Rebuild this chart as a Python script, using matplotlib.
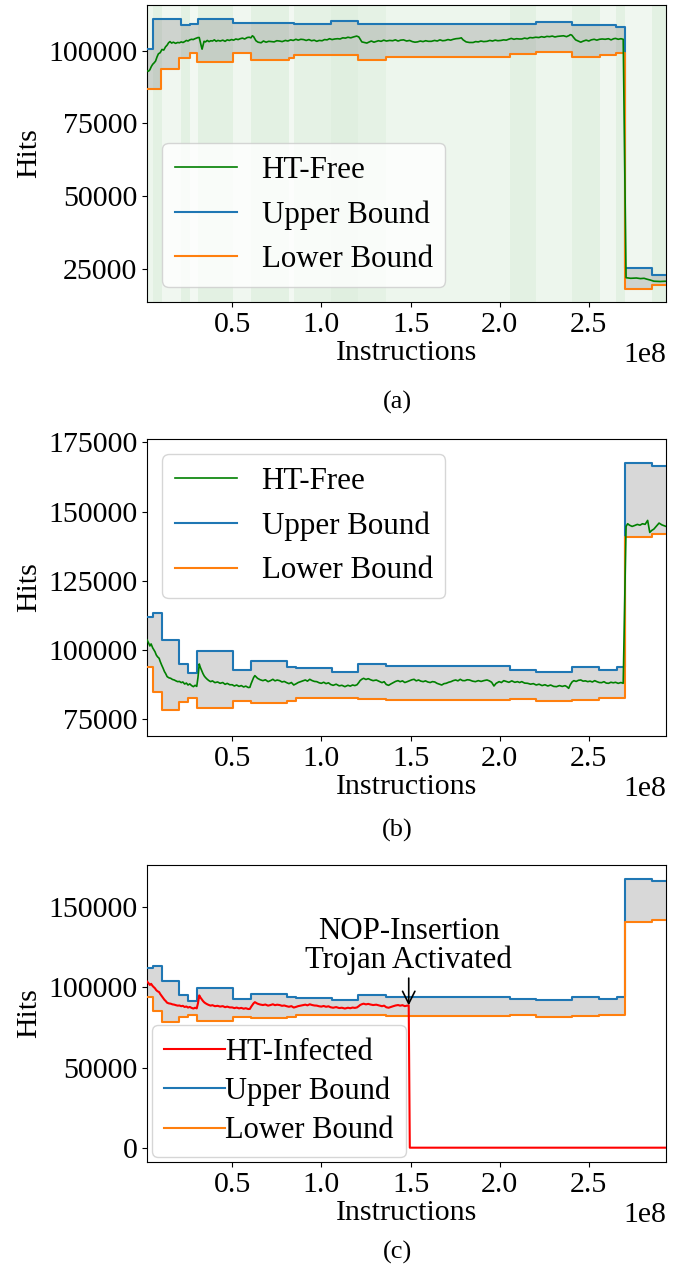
import numpy as np
import matplotlib
matplotlib.use('Agg')
import matplotlib.pyplot as plt

plt.rcParams['font.family'] = ['Liberation Serif', 'DejaVu Serif']
plt.rcParams['font.size'] = 21.5

E8 = 1e8

# ---------------- panel (a): HT-free run with window shading ----------------
a_up_x = [0.022, 0.054, 0.210, 0.262, 0.307, 0.502, 0.847, 1.052, 1.208, 2.202, 2.407, 2.650, 2.705, 2.855, 2.933]
a_up_y = [100690, 110890, 108830, 109170, 110890, 109410, 109000, 110100, 109170, 109960, 108930, 108250, 25230, 22930, 22930]

a_lo_x = [0.022, 0.100, 0.200, 0.262, 0.305, 0.502, 0.603, 0.818, 0.847, 1.208, 1.364, 2.056, 2.202, 2.407,
          2.562, 2.650, 2.705, 2.855, 2.933]
a_lo_y = [86940, 93710, 97390, 99210, 96010, 99100, 96700, 97390, 98520, 96700, 97730, 98870, 99660, 97730,
          98630, 99310, 18010, 19250, 19250]

# (x in 1e8 instructions, hits)
a_free = [(0.022, 93100), (0.030, 92900), (0.038, 93400), (0.046, 94500), (0.054, 95300), (0.062, 95800),
          (0.070, 96400), (0.078, 97800), (0.086, 98900), (0.096, 99300), (0.106, 100400), (0.116, 100200),
          (0.126, 101300), (0.135, 101900), (0.143, 102700), (0.151, 103100), (0.160, 102600), (0.170, 102900),
          (0.182, 102500), (0.194, 102800), (0.204, 102700), (0.214, 103000), (0.224, 102800), (0.233, 103100),
          (0.243, 103500), (0.252, 103300), (0.262, 103700), (0.272, 103900), (0.281, 103800), (0.291, 104100),
          (0.300, 104300), (0.308, 104500), (0.315, 104500), (0.322, 102600), (0.327, 101400), (0.331, 100500),
          (0.336, 101800), (0.342, 103200), (0.350, 103000), (0.360, 103500), (0.370, 103100), (0.380, 103400),
          (0.389, 103300), (0.400, 103700), (0.410, 103200), (0.420, 103500), (0.433, 103300), (0.447, 103600),
          (0.460, 103200), (0.472, 103700), (0.484, 103500), (0.496, 103800), (0.508, 103600), (0.520, 104000),
          (0.533, 103800), (0.545, 104100), (0.557, 104300), (0.570, 104000), (0.584, 104500), (0.595, 104600),
          (0.605, 104400), (0.613, 105100), (0.620, 104800), (0.633, 103400), (0.645, 102900), (0.662, 102700),
          (0.675, 103300), (0.690, 102900), (0.705, 103200), (0.720, 103100), (0.735, 103000), (0.750, 103400),
          (0.765, 103300), (0.780, 103100), (0.798, 103500), (0.812, 103300), (0.828, 103700), (0.842, 103500),
          (0.857, 103900), (0.870, 103600), (0.885, 103900), (0.900, 103800), (0.915, 103500), (0.930, 103800),
          (0.945, 103400), (0.960, 103600), (0.974, 103200), (0.988, 103500), (1.004, 103400), (1.018, 103800),
          (1.032, 103700), (1.046, 104100), (1.060, 103800), (1.075, 104000), (1.091, 104100), (1.105, 104000),
          (1.120, 104400), (1.135, 104300), (1.149, 104600), (1.165, 104400), (1.180, 104700), (1.198, 105000),
          (1.210, 104700), (1.218, 103900), (1.227, 103000), (1.240, 102800), (1.255, 102600), (1.266, 102900),
          (1.280, 103300), (1.295, 102900), (1.305, 103100), (1.320, 103400), (1.335, 103200), (1.350, 103600),
          (1.365, 103300), (1.383, 103500), (1.400, 103400), (1.415, 103700), (1.430, 103300), (1.445, 103600),
          (1.461, 103700), (1.478, 103300), (1.495, 103500), (1.510, 103100), (1.525, 102900), (1.539, 103000),
          (1.555, 103300), (1.570, 103100), (1.585, 103400), (1.600, 103200), (1.617, 103200), (1.635, 103500),
          (1.650, 103300), (1.665, 103700), (1.680, 103400), (1.695, 103500), (1.710, 103800), (1.725, 103600),
          (1.740, 103900), (1.755, 104100), (1.773, 104200), (1.785, 104400), (1.795, 103700), (1.812, 103000),
          (1.830, 102800), (1.851, 102800), (1.865, 103100), (1.880, 103000), (1.895, 103300), (1.910, 103100),
          (1.929, 103200), (1.945, 103500), (1.960, 103300), (1.975, 103600), (1.990, 103400), (2.007, 103500),
          (2.022, 103700), (2.037, 103600), (2.050, 103900), (2.065, 104200), (2.080, 103900), (2.095, 104100),
          (2.110, 104000), (2.124, 104000), (2.140, 104300), (2.155, 104100), (2.170, 104500), (2.185, 104400),
          (2.202, 104600), (2.220, 104500), (2.235, 104800), (2.250, 104600), (2.265, 104900), (2.280, 104800),
          (2.295, 105000), (2.310, 104700), (2.325, 104900), (2.340, 105000), (2.358, 105100), (2.375, 104800),
          (2.390, 105200), (2.397, 105500), (2.405, 105300), (2.415, 104500), (2.426, 103700), (2.440, 103300),
          (2.455, 102900), (2.470, 103300), (2.485, 103600), (2.500, 103300), (2.514, 103700), (2.530, 103900),
          (2.545, 103600), (2.560, 103900), (2.575, 104000), (2.592, 103900), (2.610, 104100), (2.625, 103700),
          (2.640, 104100), (2.650, 104200), (2.665, 103900), (2.680, 104100), (2.693, 103900), (2.709, 21900),
          (2.735, 21700), (2.767, 21800), (2.790, 21600), (2.810, 21700), (2.826, 21400), (2.845, 21100),
          (2.865, 20700), (2.900, 20600), (2.933, 20700)]

# profiling windows shaded in (a): edges and shade strength
win_edges = [0.022, 0.054, 0.106, 0.210, 0.262, 0.307, 0.502, 0.607, 0.818, 0.847, 1.052, 1.208, 1.364,
             2.056, 2.202, 2.407, 2.562, 2.650, 2.705, 2.855, 2.933]
win_alpha = [0.07, 0.11, 0.06, 0.11, 0.05, 0.11, 0.06, 0.11, 0.05, 0.10, 0.12, 0.10, 0.07,
             0.11, 0.07, 0.11, 0.06, 0.11, 0.06, 0.11]

# ---------------- panels (b) and (c): bounds for the infected comparison ----------------
b_x = [0.022, 0.054, 0.106, 0.200, 0.252, 0.305, 0.502, 0.603, 0.808, 0.857, 1.058, 1.208, 1.360,
       2.056, 2.202, 2.406, 2.556, 2.660, 2.705, 2.855, 2.933]
b_up = [112110, 113320, 103680, 95000, 91630, 99700, 92950, 95970, 94040, 93440, 92110, 95120, 94160,
        92950, 92110, 93920, 92710, 93800, 167540, 166340, 166340]
b_lo = [93800, 85000, 78370, 81270, 82590, 79220, 81630, 81030, 81750, 82710, 82710, 82470, 81990,
        82470, 81630, 81990, 82590, 82590, 140670, 141880, 141880]

b_free = [(0.022, 103680), (0.030, 102700), (0.038, 101510), (0.045, 102230), (0.054, 100800), (0.067, 99400),
          (0.074, 98260), (0.081, 97600), (0.090, 97050), (0.096, 95900), (0.104, 94640), (0.112, 93500),
          (0.120, 92230), (0.126, 91600), (0.135, 90420), (0.145, 90000), (0.155, 89820), (0.165, 89400),
          (0.175, 89220), (0.184, 88900), (0.194, 88620), (0.204, 88700), (0.214, 88260), (0.223, 88500),
          (0.233, 87770), (0.243, 88100), (0.252, 87410), (0.262, 87800), (0.272, 87200), (0.282, 86810),
          (0.292, 87300), (0.301, 86900), (0.308, 90180), (0.315, 95000), (0.321, 93800), (0.327, 92900),
          (0.332, 92230), (0.336, 91500), (0.343, 90670), (0.350, 90100), (0.360, 89460), (0.369, 89000),
          (0.379, 88620), (0.389, 88900), (0.403, 88260), (0.418, 88500), (0.432, 88020), (0.447, 88300),
          (0.460, 87650), (0.472, 88000), (0.486, 87500), (0.500, 87500), (0.512, 87050), (0.525, 87400),
          (0.538, 86900), (0.551, 87200), (0.564, 86700), (0.576, 87000), (0.590, 86500), (0.599, 86570),
          (0.606, 87900), (0.613, 88980), (0.620, 90100), (0.627, 90790), (0.635, 90300), (0.642, 89820),
          (0.657, 89300), (0.672, 88980), (0.686, 89300), (0.701, 88620), (0.715, 89000), (0.728, 89460),
          (0.740, 88900), (0.752, 89200), (0.766, 88980), (0.779, 88500), (0.792, 88700), (0.805, 88260),
          (0.818, 87900), (0.832, 88300), (0.845, 87410), (0.857, 87800), (0.870, 88300), (0.883, 88620),
          (0.896, 88900), (0.910, 89220), (0.922, 88800), (0.935, 89460), (0.948, 89000), (0.961, 88700),
          (0.974, 88620), (0.988, 88200), (1.000, 88020), (1.013, 88400), (1.026, 87900), (1.040, 88200),
          (1.052, 87600), (1.066, 87290), (1.083, 87700), (1.100, 87100), (1.115, 87300), (1.132, 86810),
          (1.149, 87300), (1.162, 87000), (1.175, 87410), (1.188, 87200), (1.200, 87500), (1.210, 88300),
          (1.217, 88980), (1.227, 89500), (1.237, 89820), (1.250, 89400), (1.263, 89700), (1.276, 89300),
          (1.290, 88980), (1.308, 89200), (1.325, 88700), (1.340, 88260), (1.352, 88600), (1.364, 87600),
          (1.377, 87290), (1.390, 87800), (1.403, 88260), (1.416, 88700), (1.430, 88980), (1.442, 88600),
          (1.455, 88900), (1.468, 88300), (1.481, 88600), (1.495, 88980), (1.508, 89300), (1.520, 89460),
          (1.532, 88900), (1.545, 89220), (1.558, 88800), (1.571, 88620), (1.584, 88900), (1.597, 88500),
          (1.610, 88300), (1.623, 88620), (1.636, 88500), (1.649, 88000), (1.662, 87700), (1.675, 87410),
          (1.688, 87900), (1.700, 88020), (1.714, 88400), (1.727, 88620), (1.740, 89000), (1.753, 89220),
          (1.766, 88900), (1.779, 89460), (1.792, 89000), (1.805, 88980), (1.818, 89300), (1.831, 89220),
          (1.848, 88800), (1.864, 88620), (1.880, 88980), (1.896, 88700), (1.912, 89000), (1.929, 89220),
          (1.942, 88900), (1.955, 88400), (1.968, 87050), (1.980, 88000), (1.997, 88620), (2.010, 88300),
          (2.023, 88980), (2.036, 88700), (2.052, 88380), (2.068, 88900), (2.085, 88380), (2.100, 88620),
          (2.112, 88300), (2.124, 88620), (2.140, 88100), (2.157, 88020), (2.173, 87700), (2.189, 87900),
          (2.205, 87410), (2.221, 87700), (2.238, 87200), (2.254, 87500), (2.270, 87050), (2.286, 87400),
          (2.303, 86900), (2.319, 86810), (2.335, 87200), (2.351, 86900), (2.367, 87170), (2.377, 86800),
          (2.387, 86200), (2.396, 87500), (2.406, 88500), (2.416, 88980), (2.429, 88700), (2.442, 89100),
          (2.455, 89220), (2.468, 88800), (2.481, 88900), (2.494, 88620), (2.507, 88800), (2.520, 88500),
          (2.533, 88980), (2.546, 88600), (2.559, 88300), (2.572, 88260), (2.585, 88600), (2.598, 88100),
          (2.611, 88020), (2.624, 88400), (2.637, 88200), (2.650, 88380), (2.665, 88000), (2.680, 88300),
          (2.693, 88020), (2.709, 144650), (2.718, 145610), (2.728, 145100), (2.743, 144650), (2.758, 145000),
          (2.772, 145370), (2.787, 145100), (2.801, 145610), (2.816, 145400), (2.830, 146820), (2.842, 142480),
          (2.853, 143200), (2.865, 143690), (2.880, 144800), (2.894, 145850), (2.910, 145200), (2.933, 144650)]

# HT-infected run: follows the clean run until the Trojan fires, then flat at zero
trig_x = 1.490
trig_y = 88700
c_inf = [p for p in b_free if p[0] < trig_x] + [(trig_x, trig_y), (1.496, 0), (2.933, 0)]

x_ticks = [0.5e8, 1.0e8, 1.5e8, 2.0e8, 2.5e8]
xlim = (0.022e8, 2.933e8)

fig = plt.figure(figsize=(6.85, 12.68), dpi=100)
L, W, H = 147 / 685, 519 / 685, 297 / 1268
ax_a = fig.add_axes([L, 1 - 302 / 1268, W, H])
ax_b = fig.add_axes([L, 1 - 736 / 1268, W, H])
ax_c = fig.add_axes([L, 1 - 1162 / 1268, W, H])

def xy(pairs):
	arr = np.array(pairs, dtype=float)
	return arr[:, 0] * E8, arr[:, 1]

def bounds(ax, xu, up, xl, lo):
	xu = np.array(xu) * E8
	xl = np.array(xl) * E8
	# fill on the merged breakpoint grid, so both edges are steps
	grid = np.union1d(xu, xl)
	up_g = np.array(up)[np.searchsorted(xu, grid, side='right') - 1]
	lo_g = np.array(lo)[np.searchsorted(xl, grid, side='right') - 1]
	ax.fill_between(grid, lo_g, up_g, step='post', color='gray', alpha=0.3, linewidth=0, zorder=1)
	ax.plot(xu, up, drawstyle='steps-post', color='tab:blue', lw=1.5, label='Upper Bound', zorder=3)
	ax.plot(xl, lo, drawstyle='steps-post', color='tab:orange', lw=1.5, label='Lower Bound', zorder=3)

# (a)
for i in range(len(win_alpha)):
	ax_a.axvspan(win_edges[i] * E8, win_edges[i + 1] * E8, color='green', alpha=win_alpha[i], lw=0, zorder=0)
ax_a.plot(*xy(a_free), color='green', lw=1.2, label='HT-Free', zorder=4)
bounds(ax_a, a_up_x, a_up_y, a_lo_x, a_lo_y)
ax_a.set_ylim(13550, 115690)
ax_a.set_yticks([25000, 50000, 75000, 100000])
ax_a.legend(loc='lower left', fontsize=22.3)

# (b)
ax_b.plot(*xy(b_free), color='green', lw=1.2, label='HT-Free', zorder=4)
bounds(ax_b, b_x, b_up, b_x, b_lo)
ax_b.set_ylim(69000, 176200)
ax_b.set_yticks([75000, 100000, 125000, 150000, 175000])
ax_b.legend(loc='upper left', fontsize=22.3)

# (c)
ax_c.plot(*xy(c_inf), color='red', lw=1.5, label='HT-Infected', zorder=4)
bounds(ax_c, b_x, b_up, b_x, b_lo)
ax_c.set_ylim(-8930, 176340)
ax_c.set_yticks([0, 50000, 100000, 150000])
ax_c.annotate('NOP-Insertion\nTrojan Activated', xy=(trig_x * E8, trig_y), xytext=(trig_x * E8, 107500),
              ha='center', va='bottom', linespacing=1.0, fontsize=22.2,
              arrowprops=dict(arrowstyle='->', color='black', lw=1.2, shrinkA=0, shrinkB=0))
ax_c.legend(loc='lower left', fontsize=22, handletextpad=0, labelspacing=0.33, borderaxespad=0.15)

for ax in (ax_a, ax_b, ax_c):
	ax.set_xlim(*xlim)
	ax.set_xticks(x_ticks)
	ax.set_xlabel('Instructions', labelpad=2)
	ax.set_ylabel('Hits')

for lab, yy in (('(a)', 402), ('(b)', 830), ('(c)', 1252)):
	fig.text(397 / 685, 1 - yy / 1268, lab, ha='center', va='center', fontsize=19)

fig.savefig('out.png', dpi=100)
